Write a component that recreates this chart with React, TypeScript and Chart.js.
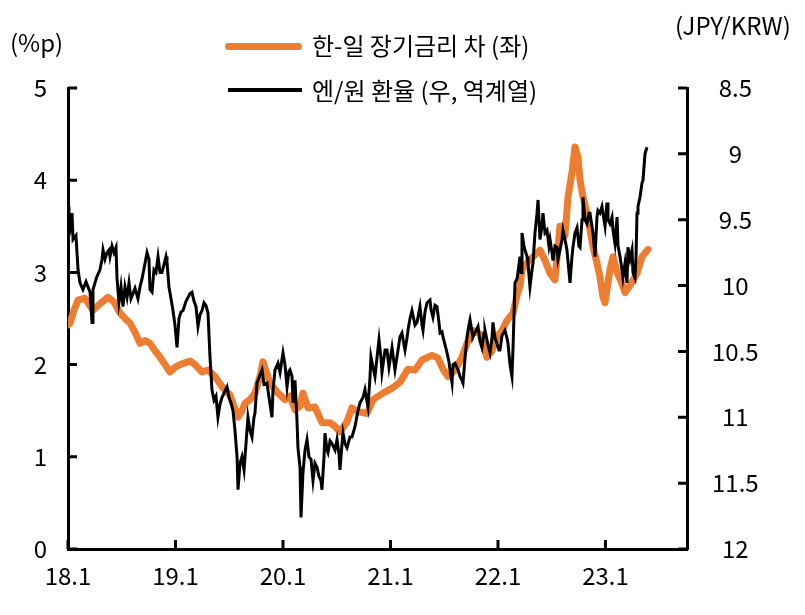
import React, { useEffect, useRef } from "react";
import { Chart, registerables } from "chart.js";

Chart.register(...registerables);

// x values: months since 2018.1
const spreadMonths = [0.00,0.22,0.67,1.12,1.90,2.79,3.57,4.47,5.13,5.80,6.36,6.92,7.48,8.04,8.60,9.15,9.71,10.27,10.83,11.39,11.94,12.50,13.06,13.62,14.18,14.96,15.63,16.41,17.19,18.08,18.64,18.98,19.42,19.76,20.32,20.87,21.43,21.77,22.21,22.55,23.44,24.22,24.78,25.34,25.90,26.23,26.79,27.57,28.35,29.25,29.81,30.36,31.14,31.70,32.37,33.38,34.05,35.16,36.28,37.06,37.95,38.74,39.52,40.63,41.30,41.86,42.42,43.20,43.98,44.54,45.21,45.99,46.77,47.33,47.89,48.45,49.01,49.68,50.12,50.46,50.68,51.24,51.91,52.69,53.25,53.81,54.36,54.92,55.48,55.82,56.26,56.60,56.93,57.16,57.49,57.94,58.27,58.61,59.05,59.39,59.72,59.95,60.50,60.84,61.29,61.84,62.18,62.74,63.52,64.08,64.75];
const spreadValues = [2.43,2.45,2.59,2.70,2.72,2.59,2.66,2.73,2.68,2.56,2.50,2.45,2.35,2.23,2.26,2.23,2.15,2.08,2.00,1.92,1.97,2.00,2.02,2.04,2.00,1.92,1.94,1.87,1.76,1.67,1.52,1.43,1.50,1.58,1.62,1.69,1.87,2.03,1.90,1.80,1.69,1.62,1.66,1.51,1.55,1.69,1.53,1.54,1.37,1.37,1.33,1.27,1.38,1.53,1.49,1.47,1.62,1.69,1.75,1.81,1.95,1.94,2.05,2.10,2.07,1.95,1.87,1.94,2.08,2.23,2.37,2.33,2.08,2.15,2.30,2.37,2.48,2.56,2.75,2.85,3.03,3.10,3.17,3.24,3.13,2.99,2.92,3.50,3.40,3.82,4.08,4.36,4.25,4.00,3.82,3.64,3.46,3.28,3.10,2.95,2.73,2.67,3.03,3.17,3.00,2.88,2.78,2.86,2.99,3.17,3.25];

const fxMonths = [0.00,0.11,0.22,0.45,0.56,0.89,1.12,1.34,1.67,2.01,2.23,2.46,2.68,2.79,3.01,3.24,3.57,3.80,3.91,4.13,4.35,4.58,4.69,4.91,5.13,5.36,5.47,5.69,5.80,5.92,6.14,6.36,6.59,6.81,7.03,7.26,7.48,7.81,8.04,8.26,8.60,8.82,9.04,9.15,9.38,9.60,9.82,10.05,10.27,10.49,10.72,10.94,11.05,11.27,11.50,11.72,11.94,12.17,12.39,12.61,12.84,13.17,13.40,13.62,13.84,14.07,14.29,14.51,14.74,14.96,15.18,15.40,15.63,15.85,16.07,16.30,16.52,16.74,16.97,17.19,17.53,17.75,17.97,18.20,18.42,18.64,18.87,18.98,19.20,19.42,19.65,19.87,20.09,20.32,20.54,20.76,20.87,21.10,21.32,21.66,21.88,22.21,22.44,22.77,22.88,23.11,23.44,23.67,24.00,24.22,24.45,24.67,24.78,25.01,25.12,25.34,25.56,25.67,25.90,26.01,26.23,26.46,26.68,26.90,27.13,27.35,27.57,27.80,28.02,28.24,28.35,28.58,28.69,28.91,29.02,29.25,29.47,29.81,30.03,30.25,30.36,30.59,30.70,30.92,31.14,31.48,31.70,32.04,32.37,32.60,32.93,33.15,33.38,33.49,33.71,33.82,34.05,34.27,34.49,34.72,34.94,35.05,35.39,35.61,35.83,36.17,36.50,36.84,37.06,37.28,37.51,37.62,37.84,37.95,38.18,38.40,38.74,38.96,39.18,39.29,39.52,39.63,39.85,40.08,40.41,40.52,40.74,40.97,41.19,41.41,41.53,41.75,41.86,42.09,42.31,42.53,42.64,42.87,42.98,43.20,43.54,43.76,43.98,44.09,44.32,44.54,44.76,44.88,45.10,45.21,45.55,45.77,45.99,46.21,46.44,46.55,46.88,47.11,47.33,47.44,47.67,47.89,48.11,48.22,48.45,48.78,49.01,49.12,49.34,49.56,49.68,49.90,50.12,50.23,50.46,50.57,50.68,50.90,51.02,51.24,51.35,51.57,51.80,51.91,52.13,52.36,52.47,52.69,52.91,53.02,53.25,53.47,53.69,53.81,54.03,54.14,54.36,54.59,54.70,54.92,55.15,55.26,55.48,55.70,55.93,56.04,56.26,56.37,56.60,56.82,57.04,57.16,57.38,57.49,57.71,57.94,58.16,58.27,58.49,58.61,58.83,59.05,59.16,59.39,59.61,59.83,59.95,60.17,60.28,60.50,60.73,60.84,61.06,61.29,61.40,61.62,61.84,61.95,62.18,62.40,62.51,62.74,62.96,63.07,63.29,63.41,63.52,63.63,63.85,64.08,64.19,64.41,64.63];
const fxValues = [9.40,9.62,9.58,9.45,9.65,9.62,9.88,9.98,10.03,9.97,10.01,10.05,10.28,10.03,9.98,9.93,9.88,9.80,9.73,9.80,9.75,9.73,9.78,9.70,9.75,9.71,9.94,10.13,10.08,10.01,10.16,10.01,10.09,9.98,10.10,10.06,10.02,10.10,10.01,9.95,9.83,9.75,9.80,10.03,10.05,9.88,9.90,9.78,9.90,9.90,9.84,9.78,9.82,10.01,10.10,10.19,10.30,10.47,10.25,10.20,10.19,10.12,10.09,10.06,10.05,10.12,10.16,10.31,10.22,10.19,10.13,10.15,10.21,10.54,10.79,10.87,10.84,11.00,10.90,10.85,10.80,10.77,10.85,10.89,10.95,11.10,11.30,11.55,11.35,11.30,11.40,11.20,11.00,11.10,11.15,11.00,10.97,10.74,10.70,10.64,10.75,10.74,10.85,11.00,10.80,10.64,10.59,10.66,10.51,10.60,10.77,10.65,10.64,10.69,10.89,10.72,11.02,11.23,11.38,11.76,11.42,11.25,11.17,11.30,11.32,11.48,11.35,11.38,11.45,11.48,11.55,11.30,11.12,11.25,11.27,11.18,11.20,11.25,11.17,11.28,11.40,11.20,11.12,11.20,11.23,11.15,11.15,11.07,10.95,10.89,10.85,10.79,10.88,10.92,10.70,10.54,10.62,10.69,10.55,10.41,10.55,10.66,10.49,10.49,10.62,10.47,10.64,10.49,10.39,10.36,10.45,10.49,10.40,10.34,10.25,10.19,10.30,10.28,10.20,10.16,10.30,10.34,10.20,10.13,10.11,10.18,10.24,10.15,10.16,10.28,10.36,10.35,10.39,10.45,10.51,10.58,10.64,10.74,10.60,10.59,10.64,10.69,10.72,10.74,10.55,10.39,10.30,10.26,10.35,10.39,10.34,10.31,10.42,10.47,10.36,10.34,10.45,10.51,10.40,10.28,10.40,10.44,10.49,10.49,10.38,10.34,10.40,10.44,10.60,10.69,10.47,9.98,9.95,9.90,9.78,9.90,9.60,9.70,9.73,9.78,9.83,10.01,9.88,9.83,9.60,9.45,9.35,9.65,9.55,9.45,9.60,9.58,9.70,9.65,9.75,9.81,9.70,9.71,9.80,9.73,9.65,9.58,9.65,9.73,9.90,9.98,9.78,9.71,9.60,9.56,9.70,9.71,9.50,9.33,9.50,9.53,9.45,9.45,9.55,9.60,9.78,9.48,9.43,9.45,9.40,9.50,9.55,9.37,9.50,9.53,9.48,9.58,9.68,9.48,9.70,9.78,9.88,9.94,9.83,9.98,9.71,9.80,9.73,9.90,9.94,9.78,9.45,9.40,9.33,9.22,9.20,9.00,8.95];

const xTickMonths = [0, 12, 24, 36, 48, 60];
const xTickLabels = ["18.1", "19.1", "20.1", "21.1", "22.1", "23.1"];
const leftTicks = [0, 1, 2, 3, 4, 5];
const rightTicks = [8.5, 9, 9.5, 10, 10.5, 11, 11.5, 12];

const legendSpread = "한-일 장기금리 차 (좌)";
const legendFx = "엔/원 환율 (우, 역계열)";
const leftTitle = "(%p)";
const rightTitle = "(JPY/KRW)";

const ORANGE = "#ED7D31";
const FONT = "'Noto Sans CJK KR', 'Noto Sans', sans-serif";
const FS = 24;

const innerTicks = {
  id: "innerTicks",
  afterDatasetsDraw(chart: any) {
    const { ctx, chartArea, scales } = chart;
    ctx.save();
    ctx.strokeStyle = "#000";
    ctx.lineWidth = 3;
    ctx.beginPath();
    for (const v of leftTicks) {
      const y = scales.y.getPixelForValue(v);
      ctx.moveTo(chartArea.left, y);
      ctx.lineTo(chartArea.left + 9, y);
    }
    for (const v of rightTicks) {
      const y = scales.y1.getPixelForValue(v);
      ctx.moveTo(chartArea.right, y);
      ctx.lineTo(chartArea.right - 9, y);
    }
    for (const v of xTickMonths) {
      const x = scales.x.getPixelForValue(v);
      ctx.moveTo(x, chartArea.bottom);
      ctx.lineTo(x, chartArea.bottom - 9);
    }
    ctx.stroke();
    ctx.restore();
  },
};

export default function App() {
  const ref = useRef<HTMLCanvasElement | null>(null);

  useEffect(() => {
    if (!ref.current) return;
    const chart = new Chart(ref.current, {
      type: "line",
      data: {
        datasets: [
          {
            label: legendFx,
            data: fxMonths.map((m, i) => ({ x: m, y: fxValues[i] })),
            yAxisID: "y1",
            borderColor: "#000",
            borderWidth: 3,
            pointRadius: 0,
            tension: 0,
            order: 0,
          },
          {
            label: legendSpread,
            data: spreadMonths.map((m, i) => ({ x: m, y: spreadValues[i] })),
            yAxisID: "y",
            borderColor: ORANGE,
            borderWidth: 7,
            borderCapStyle: "round",
            borderJoinStyle: "round",
            pointRadius: 0,
            tension: 0,
            order: 1,
          },
        ],
      },
      options: {
        animation: false,
        responsive: false,
        devicePixelRatio: 1,
        layout: { padding: { left: 0, right: 22, top: 88, bottom: 0 } },
        plugins: { legend: { display: false }, tooltip: { enabled: false } },
        scales: {
          x: {
            type: "linear",
            min: 0,
            max: 69.1,
            afterBuildTicks: (s: any) => {
              s.ticks = xTickMonths.map((v) => ({ value: v }));
            },
            afterFit: (s: any) => {
              s.height = 66;
            },
            grid: { display: false, drawTicks: false },
            border: { display: true, width: 3, color: "#000" },
            ticks: {
              autoSkip: false,
              maxRotation: 0,
              padding: 12,
              color: "#000",
              font: { family: FONT, size: FS },
              callback: (v: any) => xTickLabels[xTickMonths.indexOf(Number(v))] ?? "",
            },
          },
          y: {
            position: "left",
            min: 0,
            max: 5,
            afterBuildTicks: (s: any) => {
              s.ticks = leftTicks.map((v) => ({ value: v }));
            },
            afterFit: (s: any) => {
              s.width = 68;
            },
            grid: { display: false, drawTicks: false },
            border: { display: true, width: 3, color: "#000" },
            ticks: {
              padding: 21,
              color: "#000",
              font: { family: FONT, size: FS },
              callback: (v: any) => String(v),
            },
          },
          y1: {
            position: "right",
            reverse: true,
            min: 8.5,
            max: 12,
            afterBuildTicks: (s: any) => {
              s.ticks = rightTicks.map((v) => ({ value: v }));
            },
            afterFit: (s: any) => {
              s.width = 96;
            },
            grid: { display: false, drawTicks: false },
            border: { display: true, width: 3, color: "#000" },
            ticks: {
              crossAlign: "center",
              padding: 25,
              color: "#000",
              font: { family: FONT, size: FS },
              callback: (v: any) => String(v),
            },
          },
        },
      },
      plugins: [innerTicks],
    } as any);
    return () => chart.destroy();
  }, []);

  const textStyle: React.CSSProperties = {
    position: "absolute",
    fontFamily: FONT,
    fontSize: FS,
    lineHeight: "28px",
    color: "#000",
    whiteSpace: "nowrap",
  };

  return (
    <div style={{ position: "absolute", left: 0, top: 0, width: 805, height: 615, background: "#fff" }}>
      <canvas ref={ref} width={805} height={615} style={{ position: "absolute", left: 0, top: 0 }} />
      <div style={{ ...textStyle, left: 10, top: 28 }}>{leftTitle}</div>
      <div style={{ ...textStyle, left: 675, top: 11 }}>{rightTitle}</div>
      <div style={{ position: "absolute", left: 225, top: 43, width: 77, height: 7, background: ORANGE, borderRadius: 4 }} />
      <div style={{ ...textStyle, left: 312, top: 31 }}>{legendSpread}</div>
      <div style={{ position: "absolute", left: 228, top: 88, width: 74, height: 4, background: "#000" }} />
      <div style={{ ...textStyle, left: 312, top: 76 }}>{legendFx}</div>
    </div>
  );
}
